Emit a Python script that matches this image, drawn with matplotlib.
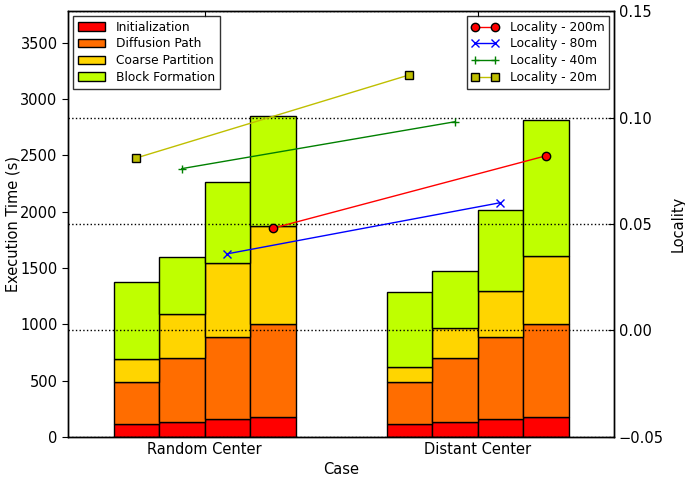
import matplotlib
matplotlib.use('Agg')
import matplotlib.pyplot as plt
import numpy as np

# execution time per phase, one entry per locality radius (20m, 40m, 80m, 200m)
cases = ['Random Center', 'Distant Center']
phases = ['Initialization', 'Diffusion Path', 'Coarse Partition', 'Block Formation']
phase_colors = ['#ff0000', '#ff6d00', '#ffd500', '#bfff00']

init_time = {'Random Center': [113, 133, 157, 180],
             'Distant Center': [113, 133, 157, 180]}
diffusion_time = {'Random Center': [378, 572, 729, 824],
                  'Distant Center': [378, 572, 729, 824]}
coarse_time = {'Random Center': [199, 385, 657, 864],
               'Distant Center': [131, 266, 411, 601]}
block_time = {'Random Center': [681, 503, 716, 983],
              'Distant Center': [669, 506, 713, 1208]}

# locality per radius, for each case
radii = ['20m', '40m', '80m', '200m']
locality = {'200m': [0.048, 0.082],
            '80m': [0.036, 0.060],
            '40m': [0.076, 0.098],
            '20m': [0.081, 0.120]}
line_styles = {'200m': dict(color='r', marker='o', mfc='r', mec='k'),
               '80m': dict(color='b', marker='x', mew=1.0),
               '40m': dict(color='g', marker='+', mew=1.0),
               '20m': dict(color='#bfbf00', marker='s', mfc='#bfbf00', mec='k')}

plt.rcParams['font.family'] = 'DejaVu Sans'
plt.rcParams['font.size'] = 10.5

fig = plt.figure(figsize=(6.85, 4.79), dpi=100)
ax = fig.add_axes([0.0993, 0.0877, 0.7971, 0.8893])
ax2 = ax.twinx()

w = 1.0 / 6
offsets = (np.arange(4) - 1.5) * w
xc = np.arange(len(cases))

handles = []
for ci, case in enumerate(cases):
    bottom = np.zeros(4)
    for pi, data in enumerate([init_time, diffusion_time, coarse_time, block_time]):
        vals = np.array(data[case])
        b = ax.bar(xc[ci] + offsets, vals, w, bottom=bottom,
                   color=phase_colors[pi], edgecolor='k', linewidth=1.0)
        bottom += vals
        if ci == 0:
            handles.append(b)

ax.set_xlim(-0.5, 1.5)
ax.set_ylim(0, 3780)
ax.set_xticks(xc)
ax.set_xticklabels(cases)
ax.set_xlabel('Case')
ax.set_ylabel('Execution Time (s)', labelpad=0)
ax.tick_params(axis='y', direction='out', length=4)
ax.tick_params(axis='x', direction='in', length=4, top=True)

leg1 = ax.legend(handles, phases, loc='upper left', fontsize=8.8,
                 fancybox=False, handlelength=2.2, borderaxespad=0.4,
                 labelspacing=0.3, handletextpad=0.9)
leg1.get_frame().set_edgecolor('k')

for r in radii[::-1]:
    k = radii.index(r)
    ax2.plot(xc + offsets[k], locality[r], label='Locality - ' + r,
             lw=1.0, ms=6, **line_styles[r])

ax2.set_ylim(-0.05, 0.15)
ax2.set_yticks([-0.05, 0.0, 0.05, 0.10, 0.15])
ax2.set_yticklabels(['\u22120.05', '0.00', '0.05', '0.10', '0.15'])
ax2.set_ylabel('Locality', labelpad=5)
ax2.tick_params(axis='y', direction='in', length=4)
ax2.yaxis.grid(True, linestyle=':', color='k', linewidth=1.0)

leg2 = ax2.legend(loc='upper right', fontsize=8.8, fancybox=False,
                  handlelength=2.2, numpoints=2, borderaxespad=0.4,
                  labelspacing=0.3, handletextpad=0.9)
leg2.get_frame().set_edgecolor('k')

for a in (ax, ax2):
    for s in a.spines.values():
        s.set_linewidth(1.0)

fig.savefig('out.png', dpi=100)
